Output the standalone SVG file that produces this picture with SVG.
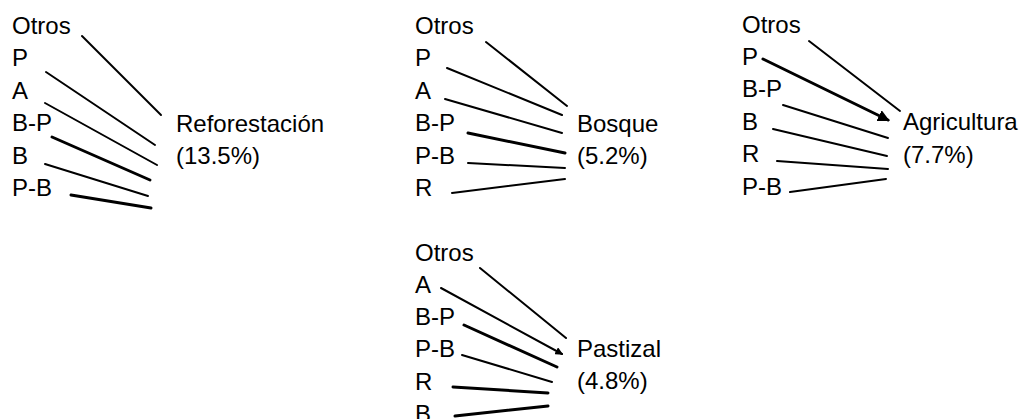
<svg xmlns="http://www.w3.org/2000/svg" width="1027" height="419" viewBox="0 0 1027 419">
  <style>
    text { font-family: "Liberation Sans", Arial, sans-serif; font-size: 24px; fill: #000; }
    .ln { stroke: #000; stroke-width: 2; stroke-linecap: round; fill: none; }
    .thick { stroke-width: 3; }
  </style>
  <defs>
    <marker id="tip" viewBox="0 0 6 6" refX="5" refY="3" markerWidth="4" markerHeight="4" orient="auto" markerUnits="strokeWidth">
      <path d="M0,0 L6,3 L0,6 Z" fill="#000"/>
    </marker>
  </defs>

  <rect width="1027" height="419" fill="#fff"/>

  <!-- Reforestación -->
  <g id="reforestacion">
    <text x="12" y="34">Otros</text>
    <text x="12" y="66">P</text>
    <text x="12" y="99">A</text>
    <text x="12" y="131">B-P</text>
    <text x="12" y="164">B</text>
    <text x="12" y="196">P-B</text>
    <text x="176" y="132">Reforestación</text>
    <text x="176" y="164">(13.5%)</text>
  </g>

  <!-- Bosque -->
  <g id="bosque">
    <text x="415" y="34">Otros</text>
    <text x="415" y="66">P</text>
    <text x="415" y="99">A</text>
    <text x="415" y="131">B-P</text>
    <text x="415" y="164">P-B</text>
    <text x="415" y="196">R</text>
    <text x="577" y="132">Bosque</text>
    <text x="577" y="164">(5.2%)</text>
  </g>

  <!-- Agricultura -->
  <g id="agricultura">
    <text x="742" y="33">Otros</text>
    <text x="742" y="65">P</text>
    <text x="742" y="97">B-P</text>
    <text x="742" y="130">B</text>
    <text x="742" y="162">R</text>
    <text x="742" y="195">P-B</text>
    <text x="903" y="130">Agricultura</text>
    <text x="903" y="163">(7.7%)</text>
  </g>

  <!-- Pastizal -->
  <g id="pastizal">
    <text x="415" y="261">Otros</text>
    <text x="415" y="293">A</text>
    <text x="415" y="325">B-P</text>
    <text x="415" y="357">P-B</text>
    <text x="415" y="390">R</text>
    <text x="415" y="422">B</text>
    <text x="577" y="357">Pastizal</text>
    <text x="577" y="389">(4.8%)</text>
  </g>

  <!-- connectors -->
  <g id="connectors">
    <!-- Reforestación -->
    <line class="ln" x1="82" y1="36" x2="161" y2="115"/>
    <line class="ln" x1="46" y1="72" x2="155" y2="145"/>
    <line class="ln" x1="45" y1="103" x2="157" y2="165"/>
    <line class="ln thick" x1="52" y1="137" x2="150" y2="180"/>
    <line class="ln" x1="45" y1="164" x2="148" y2="196"/>
    <line class="ln thick" x1="71" y1="195" x2="151" y2="208"/>

    <!-- Bosque -->
    <line class="ln" x1="486" y1="42" x2="567" y2="106"/>
    <line class="ln" x1="447" y1="68" x2="562" y2="115"/>
    <line class="ln" x1="445" y1="99" x2="562" y2="133"/>
    <line class="ln thick" x1="468" y1="133" x2="565" y2="153"/>
    <line class="ln" x1="468" y1="163" x2="565" y2="168"/>
    <line class="ln" x1="452" y1="193" x2="565" y2="179"/>

    <!-- Agricultura -->
    <line class="ln" x1="809" y1="41" x2="900" y2="111"/>
    <line class="ln thick" x1="763" y1="59" x2="888" y2="120" marker-end="url(#tip)"/>
    <line class="ln" x1="783" y1="105" x2="888" y2="138"/>
    <line class="ln" x1="773" y1="129" x2="887" y2="156"/>
    <line class="ln" x1="777" y1="161" x2="888" y2="169"/>
    <line class="ln" x1="790" y1="192" x2="886" y2="179"/>

    <!-- Pastizal -->
    <line class="ln" x1="480" y1="268" x2="566" y2="338"/>
    <line class="ln" x1="441" y1="288" x2="562" y2="354" marker-end="url(#tip)"/>
    <line class="ln thick" x1="464" y1="325" x2="557" y2="367"/>
    <line class="ln" x1="462" y1="355" x2="552" y2="382"/>
    <line class="ln thick" x1="453" y1="387" x2="548" y2="393"/>
    <line class="ln thick" x1="455" y1="416" x2="548" y2="406"/>
  </g>
</svg>
